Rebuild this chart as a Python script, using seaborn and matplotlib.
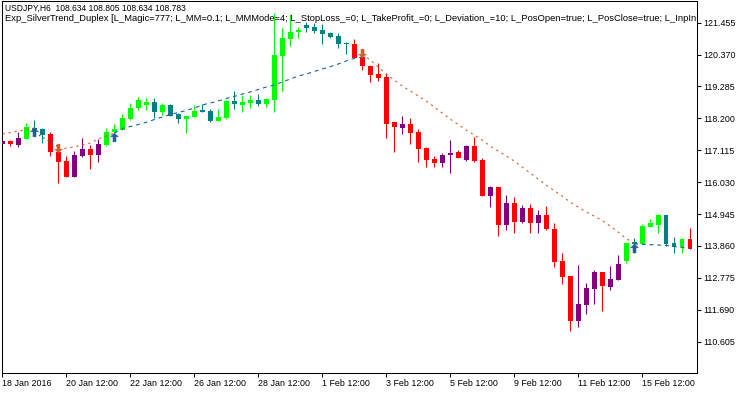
import numpy as np
import matplotlib
matplotlib.use("Agg")
import matplotlib.pyplot as plt
from matplotlib.path import Path
import seaborn as sns

# ---------------- data ----------------
symbol_line = "USDJPY,H6  108.634 108.805 108.634 108.783"
expert_line = ("Exp_SilverTrend_Duplex [L_Magic=777; L_MM=0.1; L_MMMode=4; L_StopLoss_=0; "
               "L_TakeProfit_=0; L_Deviation_=10; L_PosOpen=true; L_PosClose=true; L_InpIn")

opens = [117.338, 117.440, 117.294, 117.498, 117.889, 117.838, 117.658, 117.066, 116.750, 116.216,
         116.930, 117.158, 116.954, 117.294, 117.726, 117.804, 118.179, 118.542, 118.655, 118.747,
         118.427, 118.655, 118.338, 118.179, 118.257, 118.485, 118.451, 118.110, 118.202, 118.791,
         118.655, 118.712, 118.825, 118.678, 118.825, 120.332, 120.900, 121.127, 121.376, 121.318,
         121.206, 121.114, 121.012, 120.774, 120.729, 120.298, 119.991, 119.709, 119.617, 118.066,
         117.862, 118.008, 117.747, 117.202, 116.818, 116.692, 116.954, 117.066, 116.784, 117.260,
         116.784, 115.570, 115.855, 114.573, 115.332, 114.675, 115.162, 114.641, 114.913, 114.427,
         113.349, 112.838, 111.318, 111.852, 112.396, 112.975, 112.475, 112.702, 113.359, 113.985,
         113.927, 114.515, 114.573, 114.913, 113.951, 113.815, 114.097]
highs = [117.464, 117.464, 117.726, 118.053, 118.144, 117.872, 117.726, 117.124, 116.920, 117.090,
         117.522, 117.294, 117.488, 117.862, 117.998, 118.349, 118.712, 118.937, 118.903, 118.882,
         118.712, 118.689, 118.372, 118.291, 118.655, 118.678, 118.519, 118.519, 118.825, 119.131,
         118.995, 118.995, 119.019, 118.882, 121.784, 121.263, 121.750, 121.318, 121.468, 121.434,
         121.400, 121.148, 121.093, 120.808, 120.900, 120.389, 120.015, 120.073, 119.733, 118.087,
         118.281, 118.202, 117.838, 117.226, 116.930, 117.032, 117.464, 117.124, 117.294, 117.556,
         116.842, 115.900, 115.855, 115.594, 115.536, 115.253, 115.277, 115.083, 115.219, 114.631,
         113.611, 112.838, 113.213, 112.590, 113.043, 112.975, 113.179, 113.553, 113.971, 114.121,
         114.607, 114.777, 114.937, 114.913, 114.155, 114.131, 114.461]
lows = [117.328, 117.270, 117.236, 117.498, 117.634, 117.352, 116.930, 115.991, 116.216, 116.216,
        116.896, 116.478, 116.726, 117.260, 117.692, 117.804, 118.144, 118.485, 118.485, 118.202,
        118.315, 118.291, 118.032, 117.692, 118.257, 118.427, 118.066, 118.110, 118.179, 118.508,
        118.427, 118.563, 118.631, 118.597, 118.427, 119.131, 120.672, 120.944, 121.148, 121.093,
        120.719, 120.944, 120.604, 120.379, 120.243, 119.845, 119.447, 119.471, 117.542, 117.066,
        117.679, 117.328, 116.726, 116.556, 116.556, 116.556, 116.332, 116.842, 116.760, 116.726,
        115.570, 115.196, 114.209, 114.403, 114.311, 114.631, 114.291, 114.311, 114.403, 113.134,
        112.556, 110.978, 111.114, 111.546, 111.886, 111.658, 112.362, 112.702, 113.291, 113.611,
        113.927, 114.495, 114.311, 113.859, 113.631, 113.611, 113.747]
closes = [117.440, 117.328, 117.522, 117.896, 117.821, 117.634, 117.046, 116.726, 116.216, 116.954,
          117.158, 116.954, 117.328, 117.747, 117.838, 118.202, 118.542, 118.825, 118.747, 118.427,
          118.655, 118.291, 118.179, 118.291, 118.461, 118.427, 118.110, 118.247, 118.791, 118.678,
          118.767, 118.825, 118.678, 118.859, 120.355, 120.944, 121.148, 121.206, 121.284, 121.172,
          121.070, 120.978, 120.729, 120.719, 120.264, 119.991, 119.675, 119.563, 118.008, 117.917,
          118.008, 117.713, 117.158, 116.784, 116.692, 116.954, 117.032, 116.842, 117.260, 116.760,
          115.570, 115.876, 114.573, 115.321, 114.685, 115.162, 114.631, 114.913, 114.427, 113.325,
          112.815, 111.318, 111.886, 112.420, 112.975, 112.498, 112.736, 113.247, 113.951, 113.917,
          114.539, 114.631, 114.913, 113.927, 113.835, 114.087, 113.747]
# candle colour class: G up/uptrend, T down/uptrend, R down/downtrend, P up/downtrend
kinds = list("PRPGTTRRRP" "PRPGGGGGGT" "GTTGGTTGGT" "GGTGGGGGTT" "TTTTRRRRRR"
             "PRRRRPPRPR" "RPRPRPRPRR" "RRPPPRPPGT" "GGGTTGR")

# trailing stop lines (start bar, values)
sell_stop_1_start, sell_stop_1 = 0, [117.668, 117.719, 117.770, 117.821, 117.872]
buy_stop_1_start, buy_stop_1 = 4, [117.702, 117.566, 117.396, 117.226]
sell_stop_2_start, sell_stop_2 = 7, [117.124, 117.192, 117.226, 117.294, 117.362, 117.498, 117.600, 117.702]
buy_stop_2_start, buy_stop_2 = 14, [117.702, 117.855, 117.923, 117.991, 118.066, 118.161, 118.247, 118.332,
                                     118.400, 118.468, 118.553, 118.655, 118.723, 118.791, 118.876, 118.944,
                                     119.029, 119.097, 119.182, 119.267, 119.335, 119.437, 119.539, 119.641,
                                     119.709, 119.794, 119.879, 119.957, 120.049, 120.151, 120.236, 120.287]
sell_stop_3_start, sell_stop_3 = 45, [120.389, 120.185, 119.947, 119.709, 119.505, 119.301, 119.131, 118.961,
                                      118.791, 118.587, 118.383, 118.179, 117.991, 117.804, 117.634, 117.464,
                                      117.260, 117.090, 116.920, 116.750, 116.546, 116.342, 116.138, 115.934,
                                      115.746, 115.559, 115.355, 115.185, 115.015, 114.879, 114.726, 114.539,
                                      114.335, 114.114, 113.961]
buy_stop_3_start, buy_stop_3 = 79, [113.927, 113.917, 113.906, 113.893, 113.876, 113.842, 113.808, 113.774]

buy_signal_bars = [4, 14, 79]
buy_signal_prices = [117.747, 117.573, 113.798]
sell_signal_bars = [7, 45]
sell_signal_prices = [117.202, 120.440]

x_tick_bars = [0, 8, 16, 24, 32, 40, 48, 56, 64, 72, 80]
x_tick_labels = ["18 Jan 2016", "20 Jan 12:00", "22 Jan 12:00", "26 Jan 12:00", "28 Jan 12:00",
                 "1 Feb 12:00", "3 Feb 12:00", "5 Feb 12:00", "9 Feb 12:00", "11 Feb 12:00",
                 "15 Feb 12:00"]
y_ticks = [121.455, 120.370, 119.285, 118.200, 117.115, 116.030, 114.945, 113.860, 112.775,
           111.690, 110.605]

# ---------------- style ----------------
sns.set_theme(style="white")
plt.rcParams["font.family"] = ["Liberation Sans", "DejaVu Sans"]

palette = {"G": "#00FF00", "T": "#008080", "R": "#FF0000", "P": "#800080"}
buy_color = "#1F5F96"
sell_color = "#D0602A"

fig = plt.figure(figsize=(7.5, 3.94), dpi=100)
ax = fig.add_axes([2 / 750, 21 / 394, 695 / 750, 372 / 394])

idx = np.arange(len(opens))
o = np.array(opens)
c = np.array(closes)
cols = [palette[k] for k in kinds]

ax.vlines(idx, lows, highs, colors=cols, linewidth=0.8, zorder=2)
ax.bar(idx, np.abs(c - o), bottom=np.minimum(o, c), width=0.62, color=cols,
       linewidth=0, zorder=3)

segments = [
    (sell_stop_1_start, sell_stop_1, sell_color, (2.0, 3.5)),
    (buy_stop_1_start, buy_stop_1, buy_color, (1.5, 3.0)),
    (sell_stop_2_start, sell_stop_2, sell_color, (2.0, 3.5)),
    (buy_stop_2_start, buy_stop_2, buy_color, (3.5, 3.5)),
    (sell_stop_3_start, sell_stop_3, sell_color, (2.0, 3.5)),
    (buy_stop_3_start, buy_stop_3, buy_color, (3.5, 3.5)),
]
for start, vals, col, dash in segments:
    xs = np.arange(start, start + len(vals))
    sns.lineplot(x=xs, y=vals, ax=ax, color=col, linewidth=0.8, zorder=4)
    ax.lines[-1].set_dashes(dash)

up_arrow = Path([(0, 1), (0.9, 0.15), (0.35, 0.15), (0.35, -1), (-0.35, -1),
                 (-0.35, 0.15), (-0.9, 0.15), (0, 1)])
down_arrow = Path([(0, -1), (0.9, -0.15), (0.35, -0.15), (0.35, 1), (-0.35, 1),
                   (-0.35, -0.15), (-0.9, -0.15), (0, -1)])
sns.scatterplot(x=buy_signal_bars, y=buy_signal_prices, ax=ax, marker=up_arrow, s=40,
                color=buy_color, edgecolor=buy_color, linewidth=0.3, zorder=5)
sns.scatterplot(x=sell_signal_bars, y=sell_signal_prices, ax=ax, marker=down_arrow, s=40,
                color=sell_color, edgecolor=sell_color, linewidth=0.3, zorder=5)

ax.set_xlim(-0.06, 86.875)
ax.set_ylim(109.539, 122.192)

ax.yaxis.tick_right()
ax.set_yticks(y_ticks)
ax.set_yticklabels([f"{v:.3f}" for v in y_ticks])
ax.set_xticks(x_tick_bars)
ax.set_xticklabels(x_tick_labels, ha="left")
ax.tick_params(axis="x", bottom=True, top=False, direction="out", length=3, width=0.7,
               colors="black", labelsize=6.4, pad=1.2)
ax.tick_params(axis="y", right=True, left=False, labelright=True, labelleft=False,
               direction="out", length=3, width=0.7, colors="black", labelsize=6.4, pad=1.5)
ax.set_xlabel("")
ax.set_ylabel("")
for sp in ax.spines.values():
    sp.set_visible(True)
    sp.set_color("black")
    sp.set_linewidth(0.75)

ax.text(3 / 695, 1 - 7 / 372, symbol_line, transform=ax.transAxes, fontsize=6.15,
        va="center", ha="left", color="black", clip_on=True, zorder=6)
ax.text(3 / 695, 1 - 17.5 / 372, expert_line, transform=ax.transAxes, fontsize=6.75,
        va="center", ha="left", color="black", clip_on=True, zorder=6)

fig.savefig("out.png", dpi=100, facecolor="white")
